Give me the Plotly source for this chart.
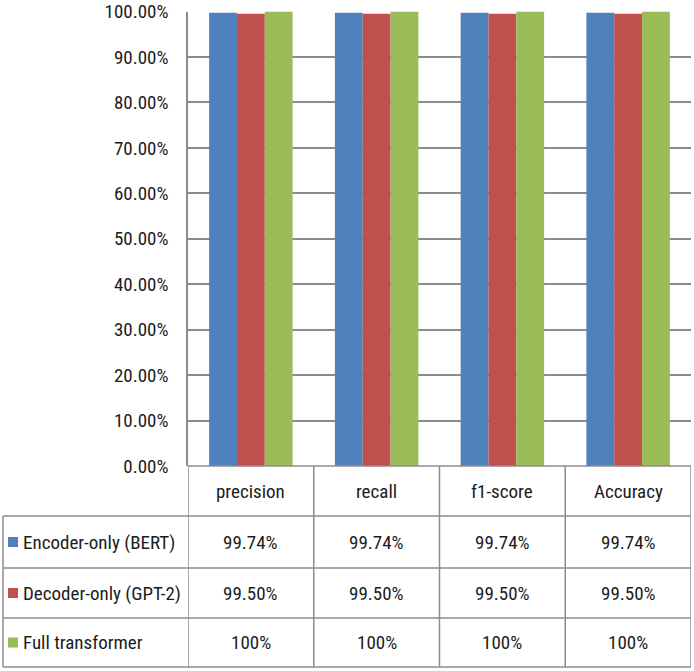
import plotly.graph_objects as go

categories = ["precision", "recall", "f1-score", "Accuracy"]
series_names = ["Encoder-only (BERT)", "Decoder-only (GPT-2)", "Full transformer"]
encoder_vals = [0.9974, 0.9974, 0.9974, 0.9974]
decoder_vals = [0.9950, 0.9950, 0.9950, 0.9950]
full_vals = [1.0, 1.0, 1.0, 1.0]
table_labels = [
    ["99.74%", "99.74%", "99.74%", "99.74%"],
    ["99.50%", "99.50%", "99.50%", "99.50%"],
    ["100%", "100%", "100%", "100%"],
]
colors = ["#4F81BD", "#C0504D", "#9BBB59"]

W, H = 694, 671
FONT = "Liberation Sans Narrow, Arial Narrow, Roboto Condensed, Arial, sans-serif"
TXT = "#1c1c1c"
LINE = "#8c8c8c"

def px(x):
    return x / W

def py(y):
    return 1 - y / H

plot_left, plot_right = 188, 691
plot_top, plot_bottom = 11.5, 466
table_left = 3
row_edges = [466, 516, 568, 618, 667]

fig = go.Figure()
for name, vals, c in zip(series_names, [encoder_vals, decoder_vals, full_vals], colors):
    fig.add_trace(go.Bar(x=categories, y=vals, name=name, marker=dict(color=c, line=dict(width=0)),
                         showlegend=False))

shapes = []
annotations = []
n = len(categories)

for i in range(n + 1):
    xv = i - 0.5
    shapes.append(dict(type="line", xref="x", yref="paper", x0=xv, x1=xv,
                       y0=py(row_edges[0]), y1=py(row_edges[-1]),
                       line=dict(color=LINE, width=1.5)))
shapes.append(dict(type="line", xref="paper", yref="paper", x0=px(table_left), x1=px(table_left),
                   y0=py(row_edges[1]), y1=py(row_edges[-1]), line=dict(color=LINE, width=1.5)))
shapes.append(dict(type="line", xref="paper", yref="paper", x0=px(plot_left), x1=px(plot_right),
                   y0=py(row_edges[0]), y1=py(row_edges[0]), line=dict(color=LINE, width=1.5)))
for ry in row_edges[1:]:
    shapes.append(dict(type="line", xref="paper", yref="paper", x0=px(table_left), x1=px(plot_right),
                       y0=py(ry), y1=py(ry), line=dict(color=LINE, width=1.5)))

hy = (row_edges[0] + row_edges[1]) / 2
for i, cat in enumerate(categories):
    annotations.append(dict(x=i, y=py(hy), xref="x", yref="paper", text=cat, showarrow=False,
                            font=dict(family=FONT, size=19, color=TXT), xanchor="center", yanchor="middle"))

for r, (name, labels, c) in enumerate(zip(series_names, table_labels, colors)):
    cy = (row_edges[r + 1] + row_edges[r + 2]) / 2
    shapes.append(dict(type="rect", xref="paper", yref="paper", x0=px(8), x1=px(18),
                       y0=py(cy - 5), y1=py(cy + 5), fillcolor=c, line=dict(width=0)))
    annotations.append(dict(x=px(21), y=py(cy), xref="paper", yref="paper", text=name, showarrow=False,
                            font=dict(family=FONT, size=19, color=TXT), xanchor="left", yanchor="middle"))
    for i, lab in enumerate(labels):
        annotations.append(dict(x=i, y=py(cy), xref="x", yref="paper", text=lab, showarrow=False,
                                font=dict(family=FONT, size=19, color=TXT), xanchor="center", yanchor="middle"))

tick_vals = [i / 10 for i in range(11)]

fig.update_layout(
    width=W, height=H, autosize=False,
    margin=dict(l=0, r=0, t=0, b=0),
    paper_bgcolor="white", plot_bgcolor="white",
    barmode="group", bargap=0.336, bargroupgap=0,
    shapes=shapes, annotations=annotations,
    xaxis=dict(domain=[px(plot_left), px(plot_right)], range=[-0.5, n - 0.5], automargin=False,
               showticklabels=False, showgrid=False, zeroline=False, showline=False),
    yaxis=dict(domain=[py(plot_bottom), py(plot_top)], range=[0, 1.0002], automargin=False,
               tickmode="array", tickvals=tick_vals, tickformat=".2%",
               showgrid=True, gridcolor=LINE, gridwidth=1.5, zeroline=False,
               showline=True, linecolor=LINE, linewidth=1.5,
               ticks="", ticklabelstandoff=14,
               tickfont=dict(family=FONT, size=19, color=TXT)),
)

fig.write_html("out.html", config={"responsive": False})
